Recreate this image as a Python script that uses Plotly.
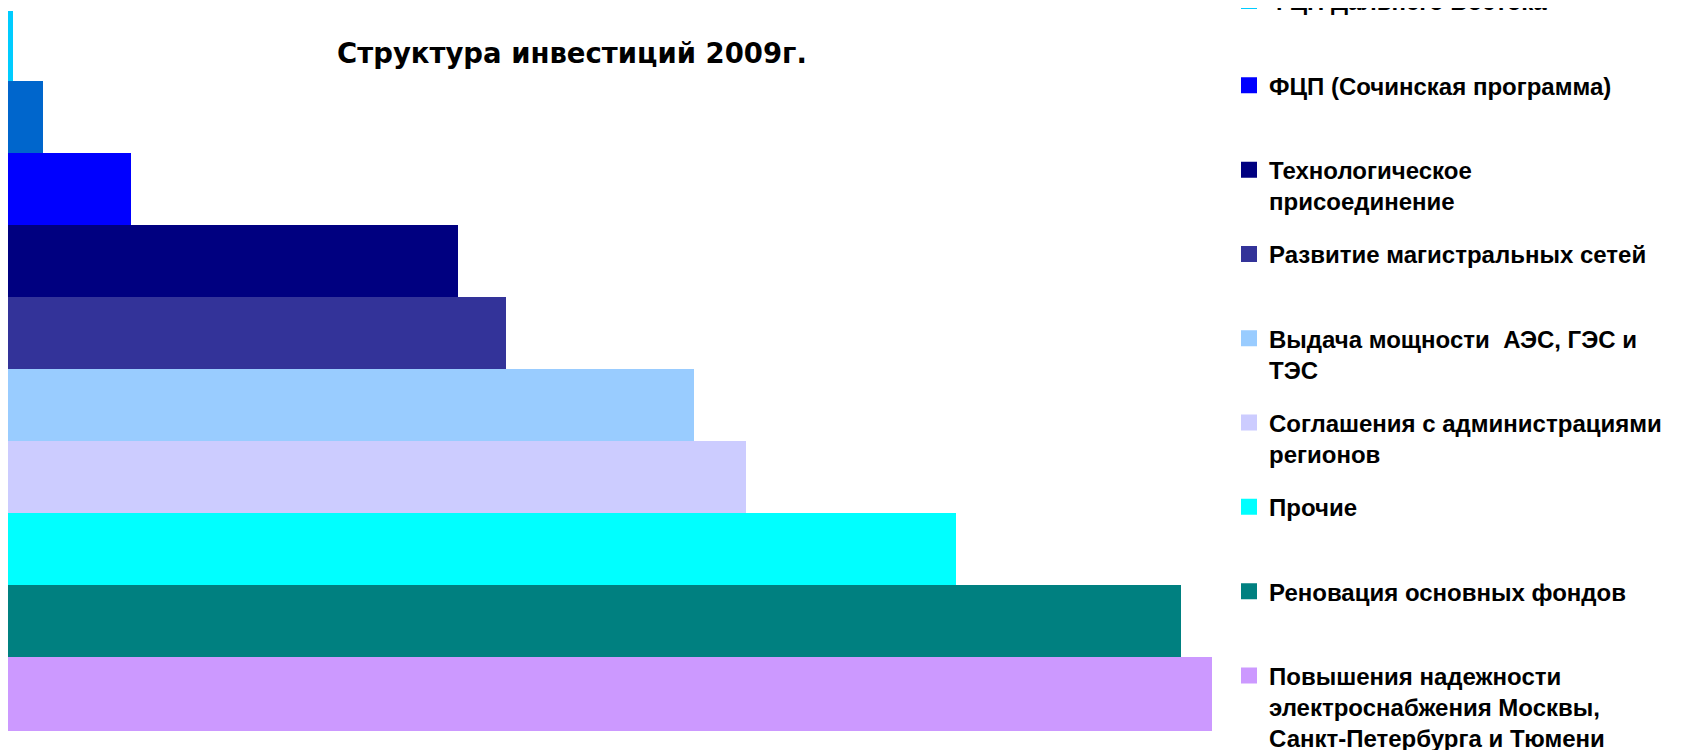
import plotly.graph_objects as go

# ---- data (top to bottom) ----
categories = [
    "ФЦП Дальнего Востока",
    "н/д",
    "ФЦП (Сочинская программа)",
    "Технологическое<br>присоединение",
    "Развитие магистральных сетей",
    "Выдача мощности  АЭС, ГЭС и<br>ТЭС",
    "Соглашения с администрациями<br>регионов",
    "Прочие",
    "Реновация основных фондов",
    "Повышения надежности<br>электроснабжения Москвы,<br>Санкт-Петербурга и Тюмени",
]
values = [0.05, 2.6, 9.9, 37.2, 41.2, 56.8, 61.2, 78.7, 97.4, 100.0]
colors = ["#00CCFF", "#0066CC", "#0000FF", "#000080", "#333399",
          "#99CCFF", "#CCCCFF", "#00FFFF", "#008080", "#CC99FF"]
in_legend = [True, False, True, True, True, True, True, True, True, True]
title_text = "Структура инвестиций 2009г."

fig = go.Figure()
for i, (cat, val, col, show) in enumerate(zip(categories, values, colors, in_legend)):
    n_lines = cat.count("<br>") + 1
    label = cat + ("<br> " if n_lines == 1 and i != len(categories) - 1 else "")
    fig.add_trace(go.Bar(
        x=[val], y=[cat], orientation="h", name=label,
        marker=dict(color=col, line=dict(color=col, width=4)),
        showlegend=show, legendgroup=f"g{i}", hoverinfo="skip",
    ))

W = 1214
fig.update_layout(
    width=1682, height=750,
    paper_bgcolor="white", plot_bgcolor="white",
    barmode="overlay", bargap=0,
    margin=dict(l=0, r=1682 - W, t=3, b=27, autoexpand=False),
    xaxis=dict(visible=False, range=[-1/6, 101], fixedrange=True),
    yaxis=dict(visible=False, categoryorder="array", categoryarray=categories,
               autorange="reversed", fixedrange=True),
    title=dict(text=title_text, xref="container", yref="container",
               x=564/1682, xanchor="center", y=1-45/750, yanchor="middle",
               font=dict(family="DejaVu Sans, Tahoma, sans-serif", size=27.5,
                         color="black", weight="bold")),
    legend=dict(
        x=1221 / W, xref="paper", xanchor="left",
        yref="paper", y=1.0445, yanchor="top",
        traceorder="grouped", tracegroupgap=18.9, valign="top",
        font=dict(family="Liberation Sans, Arial, sans-serif", size=24,
                  color="black", weight="bold"),
        bgcolor="rgba(0,0,0,0)", borderwidth=0, maxheight=2000,
    ),
)

fig.write_html("out.html")
